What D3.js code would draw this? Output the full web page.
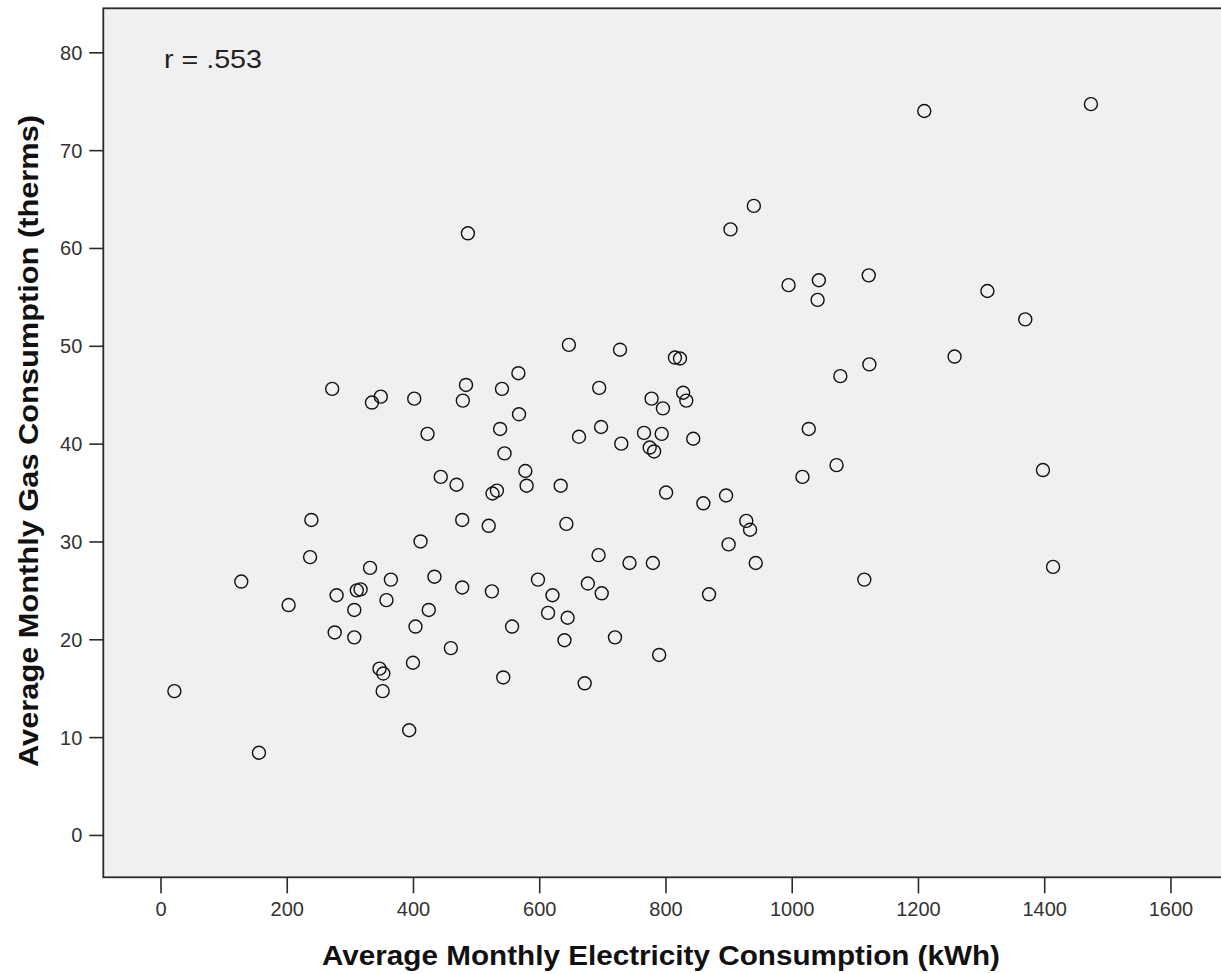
<!DOCTYPE html>
<html>
<head>
<meta charset="utf-8">
<script src="https://cdn.jsdelivr.net/npm/d3@7"></script>
<style>
  html, body { margin: 0; padding: 0; background: #ffffff; }
  svg { display: block; }
  text { font-family: Arial, "Liberation Sans", sans-serif; }
</style>
</head>
<body>
<div id="chart"></div>
<script>
// ---- Data ----
const electricity = [272,335,349,402,484,479,541,567,568,423,
  538,545,444,469,578,580,526,533,239,478,
  520,412,237,332,365,434,478,525,598,128,
  279,311,317,358,203,647,728,815,823,1123,
  1077,695,778,796,828,833,663,698,730,766,
  794,775,782,844,1027,1071,1017,634,801,860,
  896,928,934,900,943,1115,643,694,743,780,
  677,621,699,869,614,645,557,460,640,720,
  790,543,672,307,425,276,307,404,347,353,
  400,352,22,394,156,487,940,903,995,1043,
  1041,1122,1210,1474,1310,1370,1258,1398,1414];
const gas = [45.6,44.2,44.8,44.6,46.0,44.4,45.6,47.2,43.0,41.0,
  41.5,39.0,36.6,35.8,37.2,35.7,34.9,35.2,32.2,32.2,
  31.6,30.0,28.4,27.3,26.1,26.4,25.3,24.9,26.1,25.9,
  24.5,25.0,25.1,24.0,23.5,50.1,49.6,48.8,48.7,48.1,
  46.9,45.7,44.6,43.6,45.2,44.4,40.7,41.7,40.0,41.1,
  41.0,39.6,39.2,40.5,41.5,37.8,36.6,35.7,35.0,33.9,
  34.7,32.1,31.2,29.7,27.8,26.1,31.8,28.6,27.8,27.8,
  25.7,24.5,24.7,24.6,22.7,22.2,21.3,19.1,19.9,20.2,
  18.4,16.1,15.5,23.0,23.0,20.7,20.2,21.3,17.0,16.5,
  17.6,14.7,14.7,10.7,8.4,61.5,64.3,61.9,56.2,56.7,
  54.7,57.2,74.0,74.7,55.6,52.7,48.9,37.3,27.4];
const xTicks = [0,200,400,600,800,1000,1200,1400,1600];
const yTicks = [0,10,20,30,40,50,60,70,80];
const xDomain = [-90.6, 1686.4];
const yDomain = [-4.33, 84.5];
const xTitle = "Average Monthly Electricity Consumption (kWh)";
const yTitle = "Average Monthly Gas Consumption (therms)";
const annotation = "r = .553";

// ---- Layout ----
const W = 1221, H = 974;
const plot = { left: 103.3, top: 8.3, right: 1225, bottom: 877.3 };

const svg = d3.select("#chart").append("svg")
  .attr("width", W).attr("height", H);

const x = d3.scaleLinear().domain(xDomain).range([plot.left, plot.right]);
const y = d3.scaleLinear().domain(yDomain).range([plot.bottom, plot.top]);

// plot background
svg.append("rect")
  .attr("x", plot.left).attr("y", plot.top)
  .attr("width", plot.right - plot.left).attr("height", plot.bottom - plot.top)
  .attr("fill", "#f0f0f0")
  .attr("stroke", "#2a2a2a").attr("stroke-width", 1.8);

// x axis
const gx = svg.append("g")
  .attr("transform", `translate(0,${plot.bottom})`)
  .call(d3.axisBottom(x).tickValues(xTicks).tickSize(16).tickSizeOuter(0).tickFormat(d3.format("d")));
gx.select(".domain").remove();
gx.selectAll(".tick line").attr("stroke", "#2a2a2a").attr("stroke-width", 1.6);
gx.selectAll(".tick text")
  .attr("y", 39).attr("dy", null)
  .attr("font-size", 20).attr("fill", "#333")
  .attr("font-family", "Arial, 'Liberation Sans', sans-serif");

// y axis
const gy = svg.append("g")
  .attr("transform", `translate(${plot.left},0)`)
  .call(d3.axisLeft(y).tickValues(yTicks).tickSize(14).tickSizeOuter(0).tickFormat(d3.format("d")));
gy.select(".domain").remove();
gy.selectAll(".tick line").attr("stroke", "#2a2a2a").attr("stroke-width", 1.6);
gy.selectAll(".tick text")
  .attr("x", -21).attr("dy", "0.35em")
  .attr("font-size", 20).attr("fill", "#333")
  .attr("font-family", "Arial, 'Liberation Sans', sans-serif");

// points
const pts = electricity.map((e, i) => ({ e, g: gas[i] }));
svg.append("g").selectAll("circle")
  .data(pts).join("circle")
  .attr("cx", d => x(d.e))
  .attr("cy", d => y(d.g))
  .attr("r", 6.5)
  .attr("fill", "none")
  .attr("stroke", "#111")
  .attr("stroke-width", 1.4);

// annotation
svg.append("text")
  .attr("x", 164).attr("y", 68)
  .attr("font-size", 26).attr("fill", "#222")
  .attr("textLength", 98).attr("lengthAdjust", "spacingAndGlyphs")
  .text(annotation);

// axis titles
svg.append("text")
  .attr("x", 661).attr("y", 965)
  .attr("text-anchor", "middle")
  .attr("font-size", 27).attr("font-weight", "bold").attr("fill", "#111")
  .attr("textLength", 678).attr("lengthAdjust", "spacingAndGlyphs")
  .text(xTitle);

svg.append("text")
  .attr("transform", `translate(38,441) rotate(-90)`)
  .attr("text-anchor", "middle")
  .attr("font-size", 27).attr("font-weight", "bold").attr("fill", "#111")
  .attr("textLength", 652).attr("lengthAdjust", "spacingAndGlyphs")
  .text(yTitle);
</script>
</body>
</html>
